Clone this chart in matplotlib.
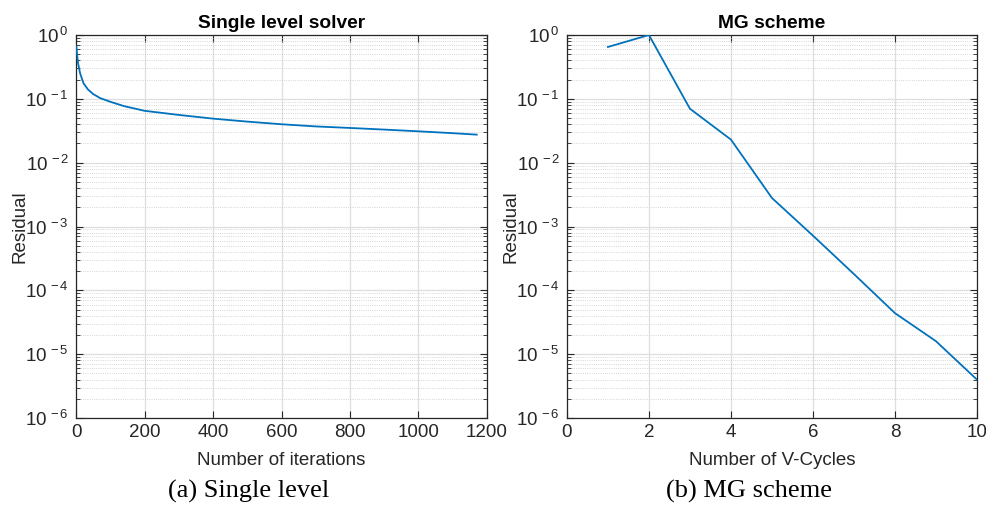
import numpy as np
import matplotlib.pyplot as plt
from matplotlib.ticker import LogLocator, NullFormatter, FuncFormatter

plt.rcParams['font.family'] = ['Liberation Sans', 'DejaVu Sans']
plt.rcParams['mathtext.fontset'] = 'custom'
plt.rcParams['mathtext.rm'] = 'Liberation Sans'
plt.rcParams['mathtext.it'] = 'Liberation Sans'

# Single level solver residual
iters = [1, 3, 6, 12, 22, 35, 50, 70, 100, 140, 200, 300, 400, 500,
         600, 700, 800, 900, 1000, 1100, 1170]
res_single = [0.66, 0.5, 0.36, 0.25, 0.175, 0.14, 0.119, 0.103, 0.09, 0.077,
              0.065, 0.056, 0.049, 0.044, 0.040, 0.037, 0.035, 0.033,
              0.031, 0.029, 0.0275]

# MG scheme residual per V-cycle
cycles = [1, 2, 3, 4, 5, 6, 7, 8, 9, 10]
res_mg = [0.65, 1.0, 0.07, 0.023, 0.0028, 7.2e-4, 1.8e-4, 4.4e-5, 1.6e-5, 4.0e-6]

titles = ['Single level solver', 'MG scheme']
xlabels = ['Number of iterations', 'Number of V-Cycles']
captions = ['(a) Single level', '(b) MG scheme']
xlims = [(0, 1200), (0, 10)]
xticks = [np.arange(0, 1201, 200), np.arange(0, 11, 2)]

line_color = '#0072BD'
ink = '#262626'

fig = plt.figure(figsize=(9.86, 5.18), dpi=100)
ax1 = fig.add_axes([0.0771, 0.193, 0.4168, 0.7394])
ax2 = fig.add_axes([0.5750, 0.193, 0.4158, 0.7394])

ax1.plot(iters, res_single, color=line_color, lw=1.3, zorder=3)
ax2.plot(cycles, res_mg, color=line_color, lw=1.3, zorder=3)


def pow_fmt(v, pos):
    return r'$\mathregular{10^{\,%d}}$' % int(round(np.log10(v)))


for i, ax in enumerate([ax1, ax2]):
    ax.set_yscale('log')
    ax.set_ylim(1e-6, 1)
    ax.set_xlim(*xlims[i])
    ax.set_xticks(xticks[i])
    ax.yaxis.set_major_locator(LogLocator(base=10, numticks=10))
    ax.yaxis.set_minor_locator(LogLocator(base=10, subs=np.arange(2, 10), numticks=20))
    ax.yaxis.set_major_formatter(FuncFormatter(pow_fmt))
    ax.yaxis.set_minor_formatter(NullFormatter())
    ax.grid(True, which='major', color='#dedede', lw=0.9, ls='-')
    ax.grid(True, which='minor', axis='y', color='#c8c8c8', lw=0.6, ls=':')
    ax.set_axisbelow(True)
    ax.tick_params(which='both', direction='in', top=True, right=True,
                   colors=ink, labelsize=13.5)
    ax.tick_params(which='major', length=5)
    ax.tick_params(which='minor', length=3)
    ax.tick_params(axis='y', pad=5)
    ax.tick_params(axis='x', pad=4)
    for s in ax.spines.values():
        s.set_color(ink)
        s.set_linewidth(0.9)
    ax.set_title(titles[i], fontsize=13.8, fontweight='bold', color='black', pad=5)
    ax.set_xlabel(xlabels[i], fontsize=13.5, color=ink, labelpad=8)
    ax.set_ylabel('Residual', fontsize=13.5, color=ink, labelpad=-2)

fig.text(0.252, 0.052, captions[0], fontsize=19, family='Liberation Serif',
         ha='center', va='center')
fig.text(0.760, 0.052, captions[1], fontsize=19, family='Liberation Serif',
         ha='center', va='center')

fig.savefig('out.png', dpi=100)
